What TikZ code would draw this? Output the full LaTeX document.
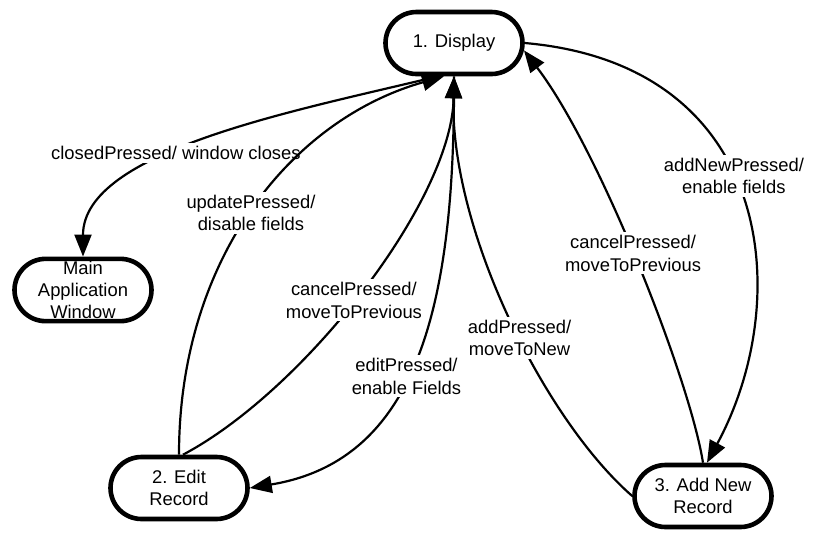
\documentclass[tikz,border=0pt]{standalone}
\usepackage{fontspec}
\setmainfont{Liberation Sans}
\usetikzlibrary{arrows.meta, shapes.misc}

\begin{document}
\begin{tikzpicture}
  [x=0.5pt, y=-0.5pt,
    > = {Triangle[length=11pt, width=8.5pt]},
    font=\fontsize{9.2}{11.2}\selectfont,
    state/.style ={
        rounded rectangle,
        draw=black,
        line width=2.3pt,
        align=center,
        inner sep=1pt,
        minimum width=70.5pt,
        minimum height=31pt,
      },
    trans/.style ={
        fill=white,
        align=center,
        inner sep=1.5pt,
      },
    link/.style ={->, line width=1.1pt},
  ]
  \useasboundingbox (0,0) rectangle (832,547);

  \node[state] (disp) at (454,43) {1. Display};
  \node[state] (main) at (83,290) {Main\\Application\\Window};
  \node[state] (edit) at (179,488) {2. Edit\\Record};
  \node[state] (add) at (703,496) {3. Add New\\Record};

  \draw[link] ([xshift=-8pt]disp.south) .. controls (300,110) and (83,150) .. (main.north)
    node[trans, pos=0.58] {closedPressed/ window closes};
  \draw[link] (edit.north) .. controls (179,260) and (290,120) .. ([xshift=-5pt]disp.south)
    node[trans, pos=0.49] {updatePressed/\\disable fields};
  \draw[link] ([xshift=2pt]edit.north) .. controls (305,390) and (452,200) .. (disp.south)
    node[trans, pos=0.47] {cancelPressed/\\moveToPrevious};
  \draw[link] (disp.south) .. controls (455,300) and (420,460) .. (edit.east)
    node[trans, pos=0.55] {editPressed/\\enable Fields};
  \draw[link] (add.west) .. controls (545,420) and (450,230) .. (disp.south)
    node[trans, pos=0.45] {addPressed/\\moveToNew};
  \draw[link] (add.north) .. controls (690,380) and (600,150) .. (disp.-6)
    node[trans, pos=0.52] {cancelPressed/\\moveToPrevious};
  \draw[link] (disp.east) .. controls (775,65) and (795,300) .. ([xshift=2pt]add.north)
    node[trans, pos=0.45] {addNewPressed/\\enable fields};
\end{tikzpicture}
\end{document}
